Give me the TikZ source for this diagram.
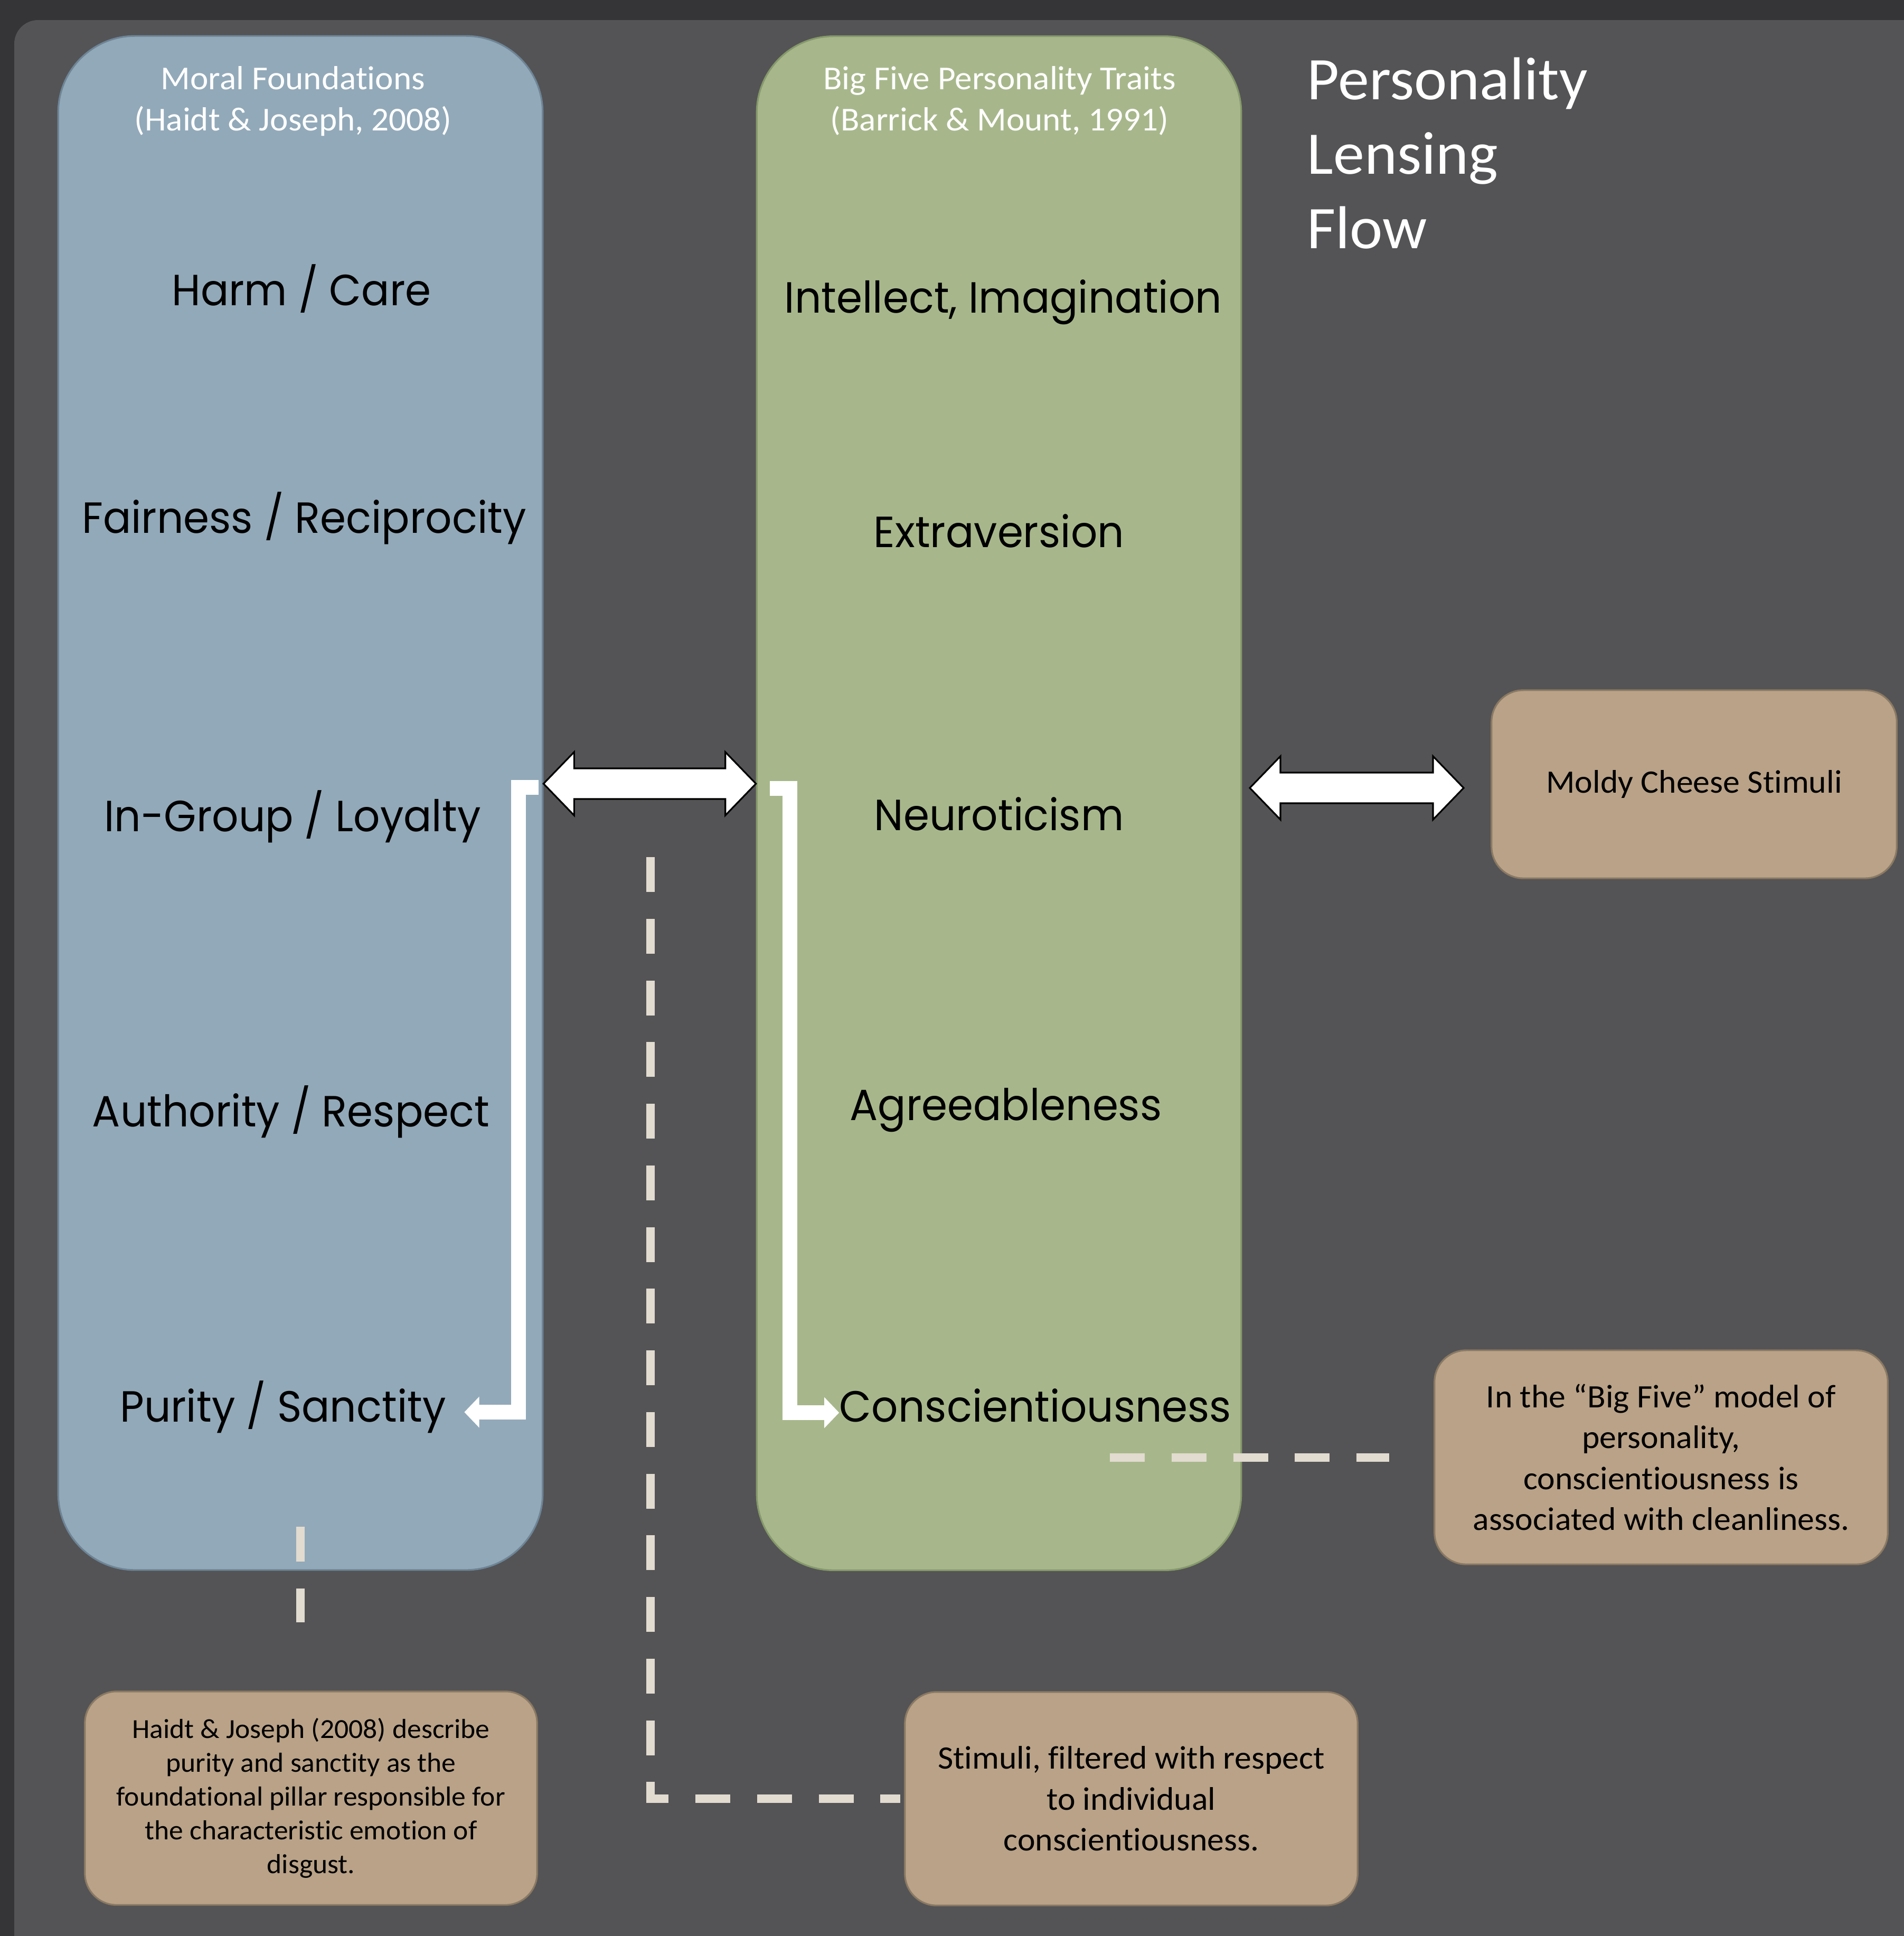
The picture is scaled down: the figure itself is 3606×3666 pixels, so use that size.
\documentclass[tikz,border=0pt]{standalone}
\usepackage{fontspec}
\setmainfont[FakeStretch=1.03, Ligatures=NoCommon]{Carlito}
\newfontfamily\gothic[FakeStretch=0.955]{Poppins}
\usetikzlibrary{arrows.meta, calc, positioning}

\definecolor{bgdark}{HTML}{353537}
\definecolor{panel}{HTML}{545456}
\definecolor{moralblue}{HTML}{92A9B9}
\definecolor{moraledge}{HTML}{6E8597}
\definecolor{traitgreen}{HTML}{A7B78B}
\definecolor{traitedge}{HTML}{86996B}
\definecolor{notetan}{HTML}{B9A287}
\definecolor{noteedge}{HTML}{8A7963}
\definecolor{dashbeige}{HTML}{E2DBD0}

\tikzset{
  pillar/.style={draw, line width=0.9pt, rounded corners=1.45cm,
    minimum width=9.17cm, minimum height=29.03cm},
  note/.style={draw=noteedge, fill=notetan, line width=0.9pt,
    rounded corners=0.6cm, align=center, text=black,
    font=\fontsize{17.6}{22}\selectfont},
  heading/.style={text=white, align=center, anchor=base,
    font=\fontsize{18}{21.9}\selectfont},
  trait/.style={anchor=base, inner sep=0pt, font=\gothic\fontsize{23.5}{28}\selectfont},
  blockarrow/.style={draw=black, fill=white, line width=0.9pt, line join=miter},
  flowarrow/.style={draw=white, line width=7.7pt,
    -{Triangle[length=8pt, width=16.2pt]}},
  leader/.style={draw=dashbeige, line width=4.5pt,
    dash pattern=on 18.8pt off 14.4pt},
}

% two-headed block arrow between two points at the same height
\newcommand{\twoway}[2]{%
  \draw[blockarrow] (#1) -- ($(#1)+(58,-60)$) -- ($(#1)+(58,-29)$)
    -- ($(#2)+(-58,-29)$) -- ($(#2)+(-58,-60)$) -- (#2)
    -- ($(#2)+(-58,60)$) -- ($(#2)+(-58,29)$) -- ($(#1)+(58,29)$)
    -- ($(#1)+(58,60)$) -- cycle;}

\begin{document}
\begin{tikzpicture}[x=0.01cm, y=-0.01cm]
\useasboundingbox (0,0) rectangle (3606,3666);
\fill[bgdark] (0,0) rectangle (3606,3666);
\fill[panel, rounded corners=12.8pt] (27,38) rectangle (3700,3760);

% the two pillars
\node[pillar, draw=moraledge, fill=moralblue] (moral) at (569,1520.5) {};
\node[pillar, draw=traitedge, fill=traitgreen] (bigfive) at (1892,1521) {};

% base of a two-line heading is its second line
\node[heading] (moralhead) at (555,247) {Moral Foundations\\(Haidt \& Joseph, 2008)};
\node[heading] (bigfivehead) at (1893,247) {Big Five Personality Traits\\(Barrick \& Mount, 1991)};

\node[anchor=base west, align=left, text=white, inner sep=0pt,
  font=\fontsize{32.6}{40}\selectfont] (title) at (2475,470) {Personality\\Lensing\\Flow};

% foundations
\node[trait] (harm) at (571,578) {Harm / Care};
\node[trait] (fairness) at (576,1009) {Fairness / Reciprocity};
\node[trait] (ingroup) at (554,1574) {In-Group / Loyalty};
\node[trait] (authority) at (551,2133) {Authority / Respect};
\node[trait] (purity) at (536,2692) {Purity / Sanctity};

% traits
\node[trait] (intellect) at (1900,592) {Intellect, Imagination};
\node[trait] (extra) at (1892,1036) {Extraversion};
\node[trait] (neuro) at (1892,1572) {Neuroticism};
\node[trait] (agree) at (1905,2121) {Agreeableness};
\node[trait] (consc) at (1961,2692) {Conscientiousness};

% side notes
\node[note, minimum width=7.67cm, minimum height=3.56cm] (moldy) at (3208.5,1485) {Moldy Cheese Stimuli};
\node[note, minimum width=8.58cm, minimum height=4.05cm] (bignote) at (3146,2759.5)
  {In the “Big Five” model of\\personality,\\conscientiousness is\\associated with cleanliness.};
\node[note, minimum width=8.57cm, minimum height=4.04cm] (stimuli) at (2142.5,3406)
  {Stimuli, filtered with respect\\to individual\\conscientiousness.};
\node[note, minimum width=8.56cm, minimum height=4.04cm,
  font=\fontsize{14.8}{18.2}\selectfont] (haidt) at (589,3405)
  {Haidt \& Joseph (2008) describe\\purity and sanctity as the\\foundational pillar responsible for\\the characteristic emotion of\\disgust.};

% block arrows
\coordinate (mflink) at (moral.east |- 0,1484);
\coordinate (bflink) at (bigfive.west |- 0,1484);
\coordinate (bfout) at (2367,1492);
\coordinate (moldyin) at (2772,1492);
\twoway{mflink}{bflink}
\twoway{bfout}{moldyin}

% flow down each pillar
\coordinate (mfdrop) at (1020,1491);
\coordinate (mfbend) at (982,1491);
\coordinate (purityin) at ($(purity.base east)+(34,-18)$);
\draw[flowarrow] (mfdrop) -- (mfbend) -- (mfbend |- purityin) [rounded corners=12pt] -- (purityin);

\coordinate (bfdrop) at (1458,1493);
\coordinate (bfbend) at (1496,1493);
\coordinate (conscin) at ($(consc.base west)+(0,-17)$);
\draw[flowarrow] (bfdrop) -- (bfbend) -- (bfbend |- conscin) [rounded corners=12pt] -- (conscin);

% dashed leaders to the notes
\coordinate (mftail) at (569,2891);
\draw[leader, shorten >=36.7pt] (mftail) -- (mftail |- haidt.north);
\coordinate (filtertop) at (1232,1623);
\draw[leader, shorten >=2pt] (filtertop) |- (stimuli.west);
\coordinate (cstail) at (2102,2760);
\draw[leader, shorten >=24pt] (cstail) -- (cstail -| bignote.west);
\end{tikzpicture}
\end{document}
